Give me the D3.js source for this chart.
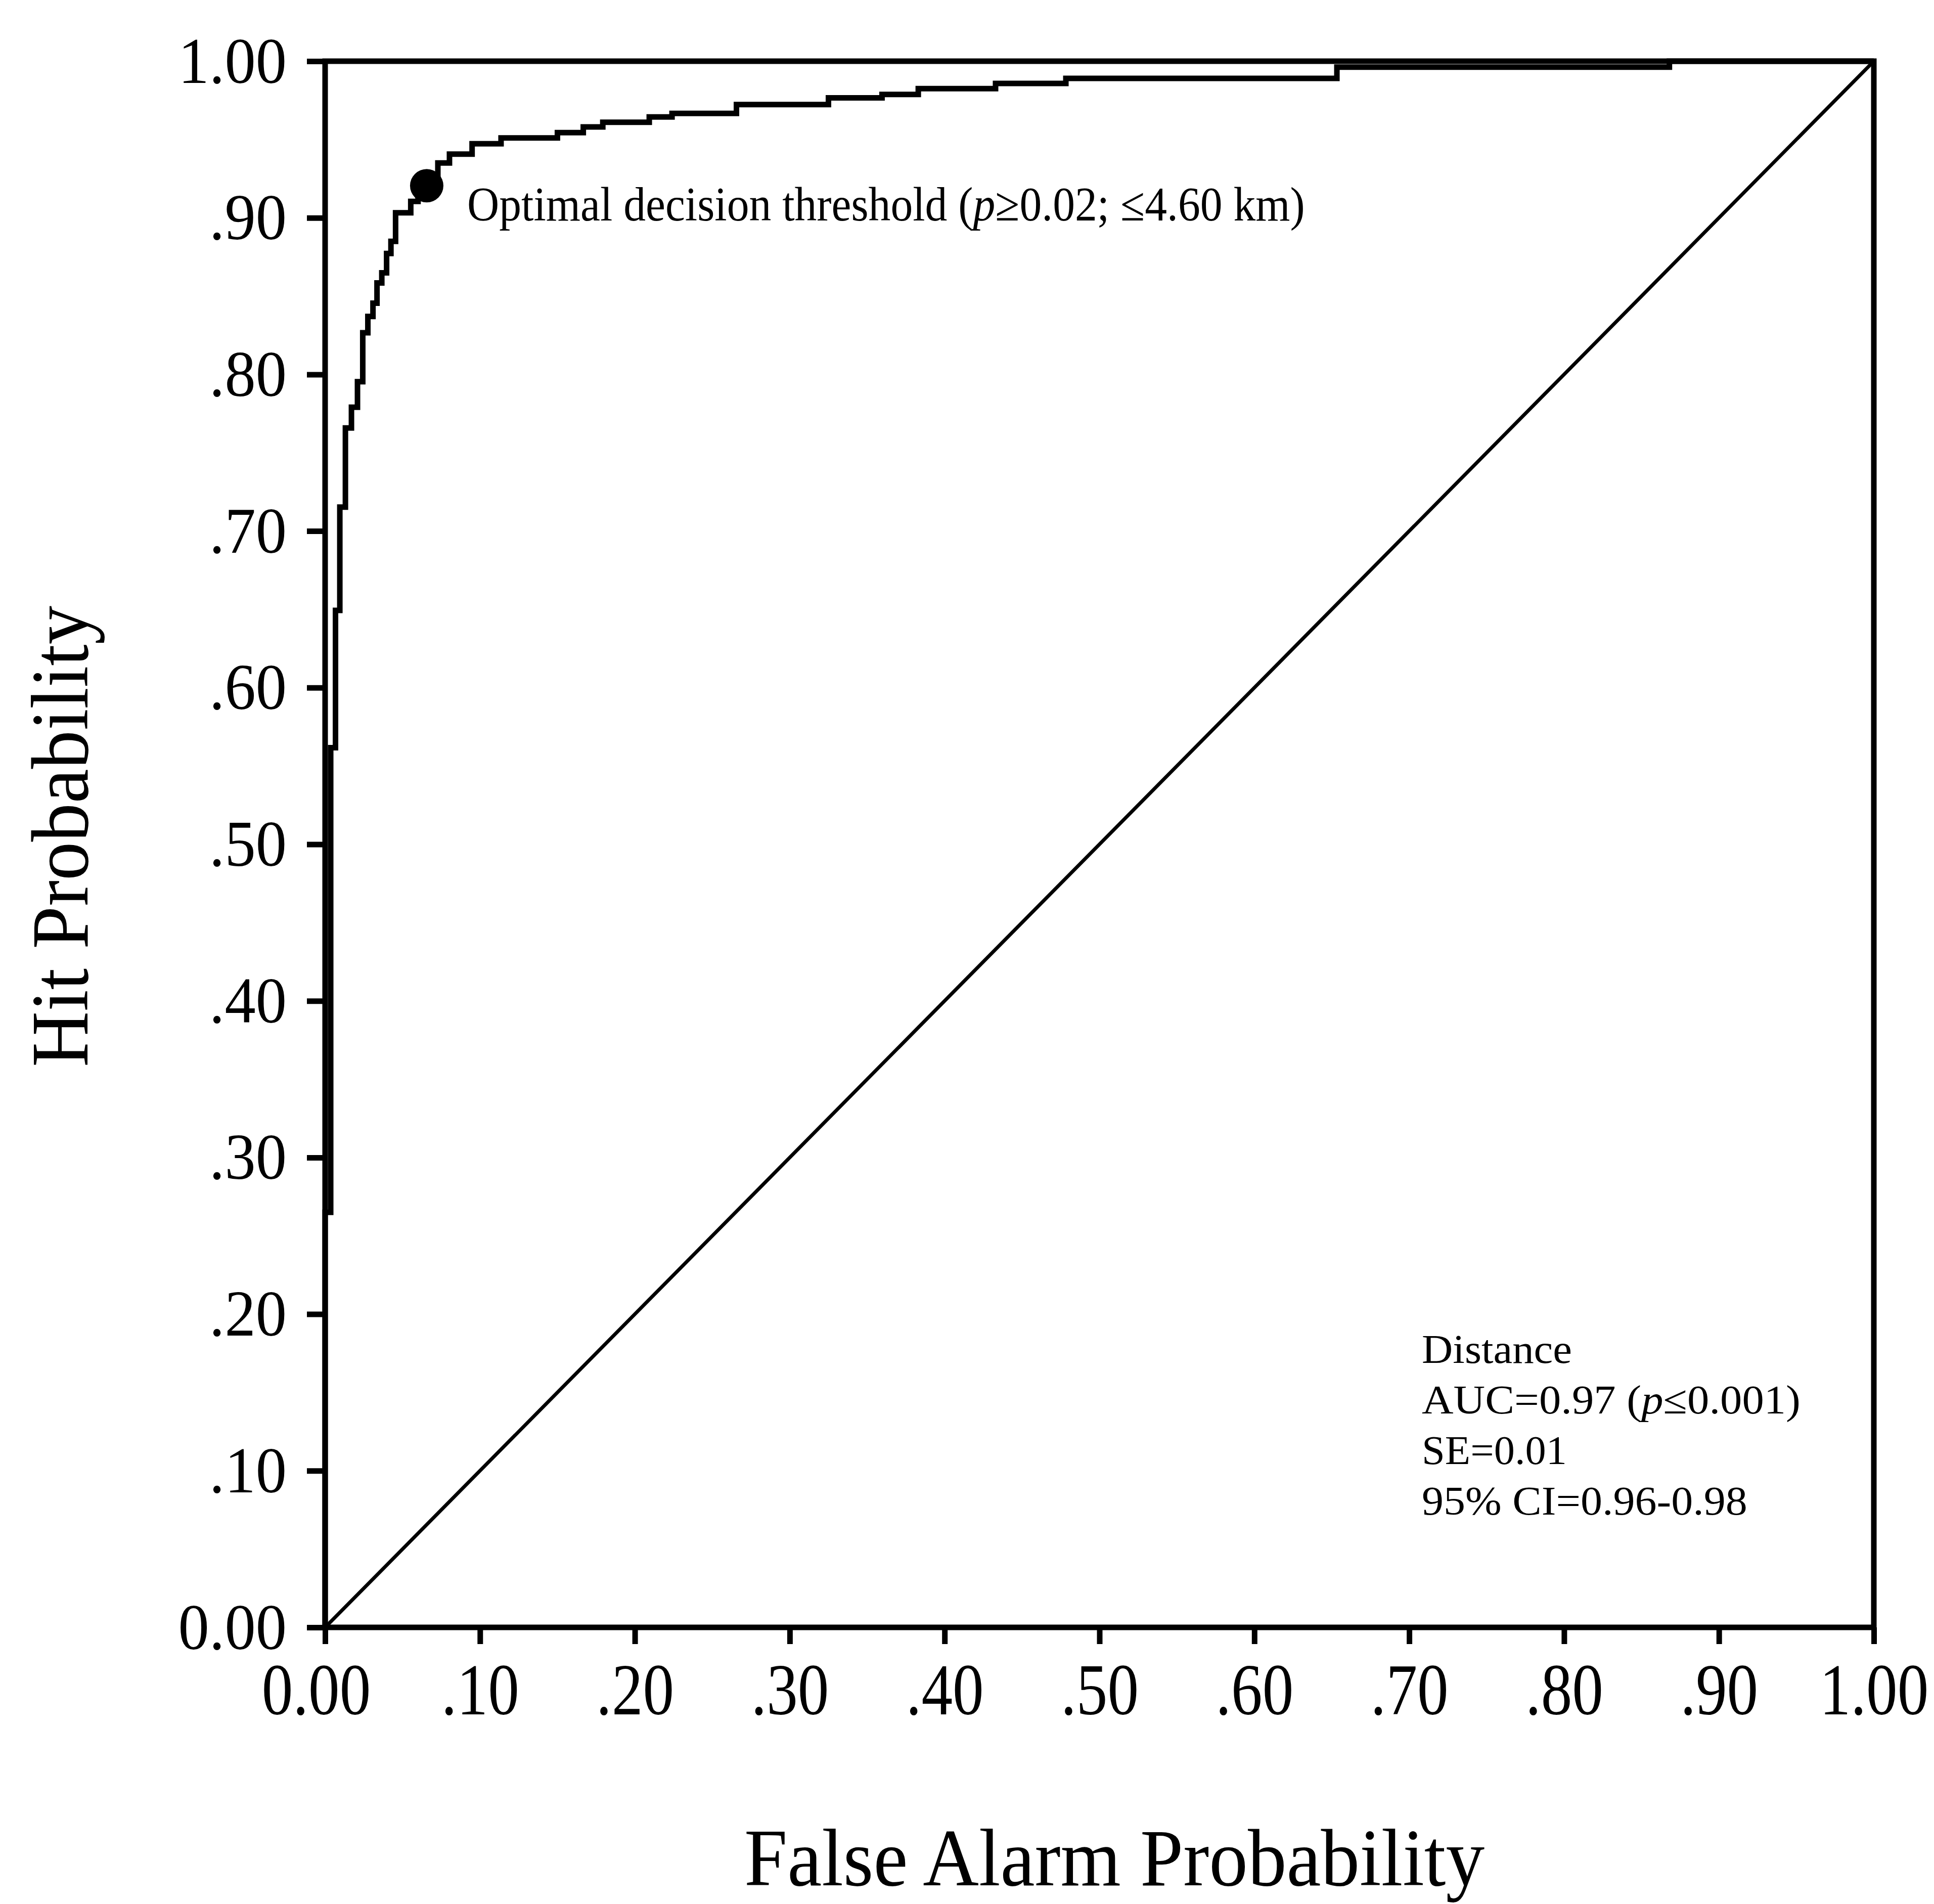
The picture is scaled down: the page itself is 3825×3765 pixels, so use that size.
<!DOCTYPE html>
<html><head><meta charset="utf-8">
<script src="https://cdn.jsdelivr.net/npm/d3@7"></script>
<style>html,body{margin:0;padding:0;background:#fff}</style>
</head><body>
<svg id="chart" width="3825" height="3765"></svg>
<script>
// ROC step-curve vertices (False alarm prob, Hit prob); drawn with curveStepBefore
const fpr = [0, 0.0036, 0.0067, 0.0095, 0.0131, 0.017, 0.0209, 0.0243, 0.0276, 0.0309,
  0.0335, 0.0366, 0.0397, 0.0425, 0.0455, 0.0553, 0.060, 0.0728, 0.0803, 0.0949,
  0.1136, 0.150, 0.1667, 0.1793, 0.2093, 0.224, 0.2656, 0.325, 0.3596, 0.383,
  0.4329, 0.4783, 0.6533, 0.868, 1.0];
const tpr = [0, 0.265, 0.5617, 0.6493, 0.7153, 0.7658, 0.7791, 0.7954, 0.8266, 0.837,
  0.8455, 0.8584, 0.8649, 0.8772, 0.885, 0.9032, 0.9105, 0.9205, 0.935, 0.9407,
  0.9473, 0.951, 0.9544, 0.958, 0.961, 0.9644, 0.9667, 0.9723, 0.9766, 0.9788,
  0.9825, 0.9858, 0.989, 0.9962, 1.0];
const chanceLine = [[0, 0], [1, 1]];
const optimalPoint = [0.0656, 0.9205];
const tickValues = [0, 0.1, 0.2, 0.3, 0.4, 0.5, 0.6, 0.7, 0.8, 0.9, 1.0];
const xTickLabels = ["0.00", ".10", ".20", ".30", ".40", ".50", ".60", ".70", ".80", ".90", "1.00"];
const yTickLabels = ["0.00", ".10", ".20", ".30", ".40", ".50", ".60", ".70", ".80", ".90", "1.00"];
const xTitle = "False Alarm Probability";
const yTitle = "Hit Probability";
const statsLines = ["Distance", "AUC=0.97 (|p|≤0.001)", "SE=0.01", "95% CI=0.96-0.98"];
const annotation = "Optimal decision threshold (|p|≥0.02; ≤4.60 km)";

const FONT = "'Liberation Serif', 'Times New Roman', serif";
const svg = d3.select("#chart");
svg.append("rect").attr("width", 3825).attr("height", 3765).attr("fill", "#fff");

const x = d3.scaleLinear().domain([0, 1]).range([643, 3706]);
const y = d3.scaleLinear().domain([0, 1]).range([3218, 121]);

// text with italic segments marked by |..|, horizontally fitted to a target width
function addFitted(px, py, str, size, width) {
  const g = svg.append("g").attr("transform", `translate(${px},${py})`);
  const t = g.append("text").attr("x", 0).attr("y", 0)
    .attr("font-family", FONT).attr("font-size", size).attr("fill", "#000");
  str.split("|").forEach((part, i) => {
    if (!part) return;
    const s = t.append("tspan").text(part);
    if (i % 2 === 1) s.attr("font-style", "italic");
  });
  const len = t.node().getComputedTextLength();
  t.attr("transform", `scale(${width / len},1)`);
  return t;
}

// Y axis
const yAxis = d3.axisLeft(y).tickValues(tickValues)
  .tickFormat((d, i) => yTickLabels[i]).tickSize(36).tickSizeOuter(0);
const gy = svg.append("g").attr("transform", `translate(${x(0)},0)`).call(yAxis);
gy.select(".domain").remove();
gy.selectAll(".tick line").attr("stroke", "#000").attr("stroke-width", 11);
gy.selectAll(".tick text")
  .attr("x", 0).attr("dy", null).attr("y", 0)
  .attr("transform", "translate(-76,42) scale(0.95,1)")
  .attr("text-anchor", "end")
  .attr("font-family", FONT).attr("font-size", 129).attr("fill", "#000");

// X axis
const xAxis = d3.axisBottom(x).tickValues(tickValues)
  .tickFormat((d, i) => xTickLabels[i]).tickSize(33).tickSizeOuter(0);
const gx = svg.append("g").attr("transform", `translate(0,${y(0)})`).call(xAxis);
gx.select(".domain").remove();
gx.selectAll(".tick line").attr("stroke", "#000").attr("stroke-width", 11);
gx.selectAll(".tick text")
  .attr("y", 0).attr("dy", null)
  .attr("transform", (d, i) => `translate(${i === 0 ? -18 : 0},172) scale(0.85,1)`)
  .attr("text-anchor", "middle")
  .attr("font-family", FONT).attr("font-size", 145).attr("fill", "#000");

// Frame
svg.append("rect")
  .attr("x", x(0)).attr("y", y(1))
  .attr("width", x(1) - x(0)).attr("height", y(0) - y(1))
  .attr("fill", "none").attr("stroke", "#000").attr("stroke-width", 11);

// Chance diagonal
svg.append("path").datum(chanceLine)
  .attr("d", d3.line().x(d => x(d[0])).y(d => y(d[1])))
  .attr("fill", "none").attr("stroke", "#000").attr("stroke-width", 7);

// ROC curve
const rocData = fpr.map((f, i) => [f, tpr[i]]);
svg.append("path").datum(rocData)
  .attr("d", d3.line().x(d => x(d[0])).y(d => y(d[1])).curve(d3.curveStepBefore))
  .attr("fill", "none").attr("stroke", "#000").attr("stroke-width", 11)
  .attr("stroke-linejoin", "miter");

// Optimal point
svg.append("circle")
  .attr("cx", x(optimalPoint[0])).attr("cy", y(optimalPoint[1])).attr("r", 33)
  .attr("fill", "#000");

// Annotation
addFitted(924, 436, annotation, 95, 1657);

// Stats block
const statsLen = [297, 749, 287, 644];
statsLines.forEach((s, i) => addFitted(2812, 2695 + i * 100, s, 80, statsLen[i]));

// Axis titles
svg.append("text")
  .attr("x", 2204).attr("y", 3728).attr("text-anchor", "middle")
  .attr("font-family", FONT).attr("font-size", 162).attr("fill", "#000")
  .attr("textLength", 1464).attr("lengthAdjust", "spacingAndGlyphs")
  .text(xTitle);
svg.append("text")
  .attr("transform", "translate(173,1654) rotate(-90)")
  .attr("text-anchor", "middle")
  .attr("font-family", FONT).attr("font-size", 162).attr("fill", "#000")
  .attr("textLength", 912).attr("lengthAdjust", "spacingAndGlyphs")
  .text(yTitle);
</script>
</body></html>
